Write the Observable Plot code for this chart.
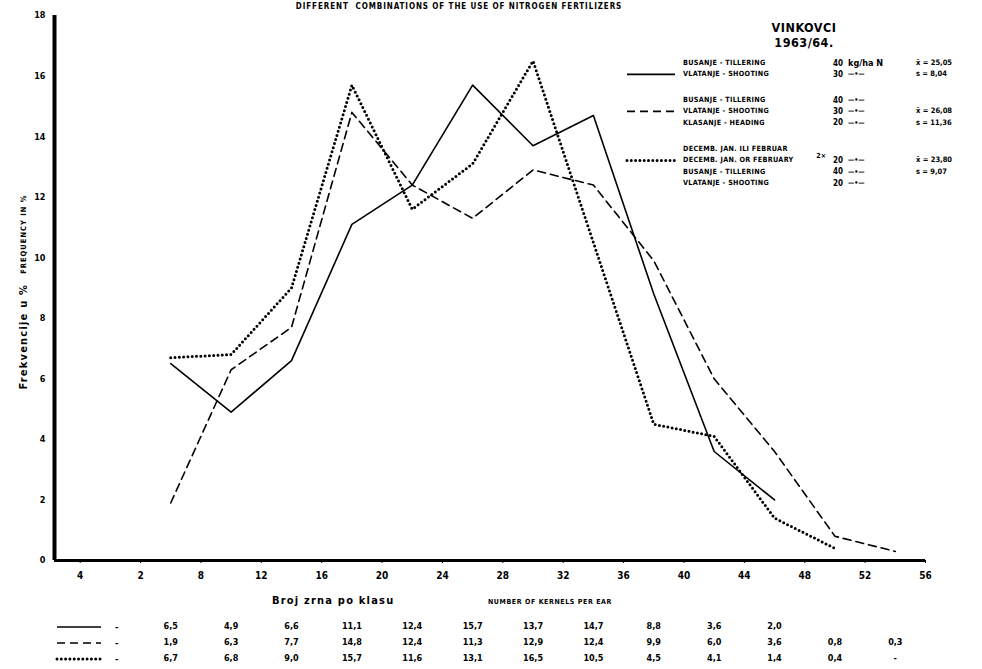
<!DOCTYPE html>
<html><head><meta charset="utf-8">
<script src="https://cdn.jsdelivr.net/npm/d3@7"></script>
<script src="https://cdn.jsdelivr.net/npm/@observablehq/plot@0.6"></script>
<style>body{margin:0;background:#fff}</style>
</head><body><div id="chart"></div>
<script>
// ---- data ----
const classes = [6, 10, 14, 18, 22, 26, 30, 34, 38, 42, 46, 50, 54];
const solidValues  = [6.5, 4.9, 6.6, 11.1, 12.4, 15.7, 13.7, 14.7, 8.8, 3.6, 2.0];
const dashedValues = [1.9, 6.3, 7.7, 14.8, 12.4, 11.3, 12.9, 12.4, 9.9, 6.0, 3.6, 0.8, 0.3];
const dottedValues = [6.7, 6.8, 9.0, 15.7, 11.6, 13.1, 16.5, 10.5, 4.5, 4.1, 1.4, 0.4];
const dottedTableExtra = ["-"];
const xTicks = [0, 4, 8, 12, 16, 20, 24, 28, 32, 36, 40, 44, 48, 52, 56];
const xTickLabels = ["4", "2", "8", "12", "16", "20", "24", "28", "32", "36", "40", "44", "48", "52", "56"];
const yTicks = [0, 2, 4, 6, 8, 10, 12, 14, 16, 18];
const titleText = "DIFFERENT  COMBINATIONS OF THE USE OF NITROGEN FERTILIZERS";
const placeText = ["VINKOVCI", "1963/64."];
const yTitleMain = "Frekvencije u %";
const yTitleEn = "FREQUENCY IN %";
const xTitleMain = "Broj zrna po klasu";
const xTitleEn = "NUMBER OF KERNELS PER EAR";
const legendGroupSolid  = ["BUSANJE - TILLERING", "VLATANJE - SHOOTING"];
const legendAmountSolid = ["40", "30"];
const legendUnitSolid   = ["kg/ha N", "—\u2022—"];
const legendStatSolid   = ["x̄ = 25,05", "s = 8,04"];
const legendGroupDashed  = ["BUSANJE - TILLERING", "VLATANJE - SHOOTING", "KLASANJE - HEADING"];
const legendAmountDashed = ["40", "30", "20"];
const legendUnitDashed   = ["—\u2022—", "—\u2022—", "—\u2022—"];
const legendStatDashed   = ["", "x̄ = 26,08", "s = 11,36"];
const legendGroupDotted  = ["DECEMB. JAN. ILI FEBRUAR", "DECEMB. JAN. OR FEBRUARY", "BUSANJE - TILLERING", "VLATANJE - SHOOTING"];
const legendAmountDotted = ["", "20", "40", "20"];
const legendUnitDotted   = ["", "—\u2022—", "—\u2022—", "—\u2022—"];
const legendStatDotted   = ["", "x̄ = 23,80", "s = 9,07", ""];
const legendPrefixDotted = "2×";

// ---- styles ----
const FONT = "'DejaVu Sans Condensed','Liberation Sans Narrow','DejaVu Sans',sans-serif";
const styles = {
  solid:  {stroke: "#000", strokeWidth: 1.6},
  dashed: {stroke: "#000", strokeWidth: 1.6, strokeDasharray: "8,5"},
  dotted: {stroke: "#000", strokeWidth: 3, strokeDasharray: "0,4.3", strokeLinecap: "round"}
};
const fmt = v => typeof v === "number" ? v.toFixed(1).replace(".", ",") : v;
const pts = vals => vals.map((v, i) => ({x: classes[i], y: v}));
const tableRow = (vals, dy) => Plot.text(vals, {
  x: (d, i) => classes[i], text: d => fmt(d), frameAnchor: "bottom", dy,
  fontSize: 9, fontWeight: "bold", fill: "#000"
});

const chart = Plot.plot({
  width: 982, height: 669,
  marginLeft: 54, marginRight: 57, marginTop: 15, marginBottom: 109,
  style: {fontFamily: FONT, background: "#fff", color: "#000"},
  x: {domain: [-1.7, 56]},
  y: {domain: [0, 18]},
  marks: [
    Plot.line(pts(solidValues), {x: "x", y: "y", ...styles.solid}),
    Plot.line(pts(dashedValues), {x: "x", y: "y", ...styles.dashed}),
    Plot.line(pts(dottedValues), {x: "x", y: "y", ...styles.dotted}),
    Plot.ruleX([-1.7], {stroke: "#000", strokeWidth: 4}),
    Plot.ruleY([0], {stroke: "#000", strokeWidth: 3}),
    Plot.axisX({ticks: xTicks, tickFormat: d => xTickLabels[xTicks.indexOf(d)], tickSize: 3,
      tickPadding: 8, fontSize: 10, fontWeight: "bold", label: null}),
    Plot.axisY({ticks: yTicks, tickSize: 0, tickPadding: 9, fontSize: 9, fontWeight: "bold", label: null}),
    tableRow(solidValues, 68),
    tableRow(dashedValues, 84),
    tableRow([...dottedValues, ...dottedTableExtra], 100)
  ]
});

const svg = d3.select(chart);
function txt(x, y, s, size, opts = {}) {
  const t = svg.append("text").attr("x", x).attr("y", y).text(s)
    .attr("font-size", size).attr("font-weight", opts.weight || "bold")
    .attr("font-family", FONT).attr("fill", "#000")
    .attr("dominant-baseline", "middle")
    .attr("text-anchor", opts.anchor || "start");
  if (opts.ls) t.attr("letter-spacing", opts.ls);
  return t;
}
function sample(x1, x2, y, st) {
  const l = svg.append("line").attr("x1", x1).attr("x2", x2).attr("y1", y).attr("y2", y)
    .attr("stroke", st.stroke).attr("stroke-width", st.strokeWidth);
  if (st.strokeDasharray) l.attr("stroke-dasharray", st.strokeDasharray);
  if (st.strokeLinecap) l.attr("stroke-linecap", st.strokeLinecap);
}

// title
txt(459, 6, titleText, 8, {anchor: "middle", ls: 0.9});
// place / year
txt(804, 28, placeText[0], 12.5, {anchor: "middle", ls: 0.5});
txt(804, 43, placeText[1], 12.5, {anchor: "middle", ls: 0.5});

// legend
const rowH = 11.4;
function group(y0, lines, amounts, units, stats, sampleRow, st) {
  lines.forEach((s, i) => {
    const y = y0 + i * rowH;
    txt(683, y, s, 7.2, {ls: 0.3});
    if (amounts[i]) txt(833, y, amounts[i], 8);
    if (units[i]) txt(848, y, units[i], i === 0 && units[i].startsWith("kg") ? 9 : 7);
    if (stats[i]) txt(916, y, stats[i], 7.5);
  });
  sample(627, 675, y0 + sampleRow * rowH, st);
}
group(63, legendGroupSolid, legendAmountSolid, legendUnitSolid, legendStatSolid, 1, styles.solid);
group(100, legendGroupDashed, legendAmountDashed, legendUnitDashed, legendStatDashed, 1, styles.dashed);
group(149, legendGroupDotted, legendAmountDotted, legendUnitDotted, legendStatDotted, 1, styles.dotted);
txt(826, 156, legendPrefixDotted, 7, {anchor: "end"});

// axis titles
const yt = svg.append("text").attr("transform", "translate(24,292) rotate(-90)")
  .attr("text-anchor", "middle").attr("dominant-baseline", "middle")
  .attr("font-family", FONT).attr("font-weight", "bold").attr("fill", "#000");
yt.append("tspan").attr("font-size", 11).attr("letter-spacing", 1.2).text(yTitleMain);
yt.append("tspan").attr("font-size", 7.5).attr("letter-spacing", 1).attr("dx", 10).text(yTitleEn);
txt(272, 601, xTitleMain, 11, {ls: 1.2});
txt(488, 602, xTitleEn, 7, {ls: 0.6});

// table legend samples
[["solid", 627], ["dashed", 643], ["dotted", 659]].forEach(([k, y]) => {
  sample(57, 101, y, styles[k]);
  txt(115, y, "-", 9);
});

document.getElementById("chart").appendChild(chart);
</script>
</body></html>
